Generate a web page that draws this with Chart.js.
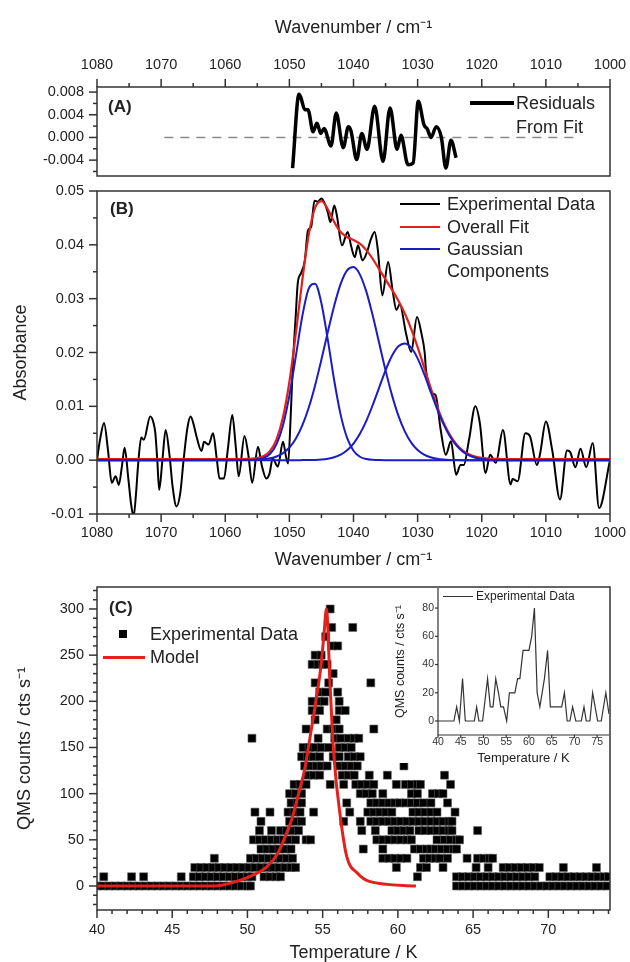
<!DOCTYPE html>
<html><head><meta charset="utf-8">
<script src="https://cdn.jsdelivr.net/npm/chart.js@4.4.0/dist/chart.umd.min.js"></script>
<style>
html,body{margin:0;padding:0;background:#fff;overflow:hidden;width:630px;height:962px;}
#wrap{position:relative;width:630px;height:962px;overflow:hidden;font-family:'Liberation Sans',Arial,sans-serif;color:#222;}
canvas{position:absolute;}
.t{position:absolute;white-space:nowrap;line-height:1;}
.ln{position:absolute;}
</style></head>
<body><div id="wrap">
<canvas id="cA" width="630" height="186" style="left:0;top:0;width:630px;height:186px"></canvas>
<canvas id="cB" width="630" height="395" style="left:0;top:180px;width:630px;height:395px"></canvas>
<canvas id="cC" width="630" height="400" style="left:0;top:578px;width:630px;height:400px"></canvas>
<canvas id="cI" width="224" height="186" style="left:385px;top:581px;width:224px;height:186px"></canvas>

<div class="t" style="left:108px;top:98px;font-size:17px;font-weight:bold">(A)</div>
<div class="ln" style="left:470px;top:101px;width:44px;height:3.5px;background:#000"></div>
<div class="t" style="left:516px;top:94px;font-size:18px">Residuals</div>
<div class="t" style="left:516px;top:118px;font-size:18px">From Fit</div>

<div class="t" style="left:110px;top:200px;font-size:17px;font-weight:bold">(B)</div>
<div class="ln" style="left:400px;top:203px;width:40px;height:2px;background:#000"></div>
<div class="ln" style="left:400px;top:226px;width:40px;height:2px;background:#e3201c"></div>
<div class="ln" style="left:400px;top:248px;width:40px;height:2px;background:#1c1cc4"></div>
<div class="t" style="left:447px;top:195px;font-size:18px">Experimental Data</div>
<div class="t" style="left:447px;top:218px;font-size:18px">Overall Fit</div>
<div class="t" style="left:447px;top:240px;font-size:18px">Gaussian</div>
<div class="t" style="left:447px;top:262px;font-size:18px">Components</div>

<div class="t" style="left:109px;top:599px;font-size:17px;font-weight:bold">(C)</div>
<div class="ln" style="left:119px;top:630px;width:8px;height:8px;background:#000"></div>
<div class="t" style="left:150px;top:625px;font-size:18px">Experimental Data</div>
<div class="ln" style="left:103px;top:655.5px;width:42px;height:3px;background:#e3201c"></div>
<div class="t" style="left:150px;top:648px;font-size:18px">Model</div>

<div class="ln" style="left:443px;top:595.5px;width:30px;height:1px;background:#333"></div>
<div class="t" style="left:476px;top:590px;font-size:12px">Experimental Data</div>
</div>
<script>
// ---------- tick values ----------
const wnTicks = [1080,1070,1060,1050,1040,1030,1020,1010,1000];
const wnMinor = [1075,1065,1055,1045,1035,1025,1015,1005];
const resTicks = [-0.004,0,0.004,0.008];
const resMinor = [0.006,0.002,-0.002,-0.006];
const absTicks = [-0.01,0,0.01,0.02,0.03,0.04,0.05];
const absMinor = [0.045,0.035,0.025,0.015,0.005,-0.005];
const tempTicks = [40,45,50,55,60,65,70];
const tempMinor = [41,42,43,44,46,47,48,49,51,52,53,54,56,57,58,59,61,62,63,64,66,67,68,69,71,72,73,74];
const qmsTicks = [0,50,100,150,200,250,300];
const qmsMinor = [-20,-10,10,20,30,40,60,70,80,90,110,120,130,140,160,170,180,190,210,220,230,240,260,270,280,290,310,320];
const insetTempTicks = [40,45,50,55,60,65,70,75];
const insetCountTicks = [0,20,40,60,80];

// ---------- (A) residuals ----------
const resWn  = [1049.5,1048.5,1048.2,1047.6,1047.1,1046.3,1045.7,1045.1,1044.6,1043.5,1042.7,1041.6,1040.8,1040.4,1039.5,1038.7,1037.9,1036.7,1035.4,1034.3,1033.2,1032.6,1031.5,1030.7,1029.9,1029.0,1028.5,1027.9,1027.1,1026.3,1025.6,1024.8,1024.0];
const resVal = [-0.0054,0.0076,0.0070,0.0049,0.0049,0.0010,0.0025,0.0007,0.0016,-0.0015,0.0043,-0.0018,0.0019,0.0012,-0.0039,0.0007,-0.0021,0.0055,-0.0042,0.0052,-0.0021,0.0004,-0.0048,-0.0045,0.0064,0.0022,0.0015,0.0000,0.0019,0.0000,-0.0054,-0.0005,-0.0036];
const zeroWn  = [1069.5,1005.5];
const zeroVal = [0,0];

// ---------- (B) absorbance ----------
const expWn = [1080,1079.5,1078.9,1078.3,1077.7,1077.1,1076.6,1076.1,1075.7,1075.1,1074.7,1074.3,1073.9,1073.6,1073.1,1072.7,1071.7,1071.2,1070.9,1070.6,1070.3,1069.8,1069.3,1068.7,1068.2,1067.6,1067.0,1066.5,1065.9,1065.4,1064.9,1064.5,1063.7,1063.3,1062.6,1061.9,1061.3,1060.9,1060.2,1059.6,1058.9,1058.4,1057.9,1057.0,1056.4,1055.8,1054.9,1054.3,1053.6,1053.1,1052.6,1051.8,1051.0,1050.5,1050.2,1049.8,1049.5,1049.0,1048.7,1048.2,1047.6,1047.1,1046.6,1046.1,1045.6,1045.0,1044.5,1044.0,1043.6,1043.0,1042.6,1041.8,1040.9,1040.4,1039.8,1039.3,1038.6,1037.8,1037.3,1036.7,1036.2,1035.5,1034.6,1033.9,1033.3,1032.8,1031.8,1031.0,1030.1,1029.4,1028.9,1028.7,1027.7,1027.2,1026.4,1025.6,1024.8,1024.0,1023.3,1022.8,1022.0,1021.0,1020.3,1019.4,1018.7,1017.8,1016.7,1015.5,1015.2,1014.4,1013.2,1012.5,1011.4,1010.9,1010.0,1009.0,1007.8,1006.7,1006.2,1005.4,1004.6,1003.7,1002.7,1001.7,1000.0];
const expAbs = [0.0000,0.0040,0.0069,0.0020,-0.0042,-0.0030,-0.0046,-0.0010,0.0023,-0.0036,-0.0080,-0.0105,-0.0060,-0.0010,0.0042,0.0038,0.0081,0.0070,0.0050,0.0000,-0.0055,0.0000,0.0056,0.0010,-0.0050,-0.0086,-0.0060,0.0000,0.0060,0.0081,0.0065,0.0045,0.0017,0.0034,0.0029,0.0050,0.0000,-0.0034,-0.0034,0.0020,0.0084,0.0030,-0.0030,0.0045,0.0010,-0.0042,0.0025,-0.0010,-0.0034,-0.0025,0.0003,-0.0012,0.0034,0.0005,-0.0006,0.0080,0.0168,0.0270,0.0328,0.0347,0.0370,0.0427,0.0433,0.0482,0.0480,0.0486,0.0477,0.0460,0.0442,0.0473,0.0455,0.0399,0.0424,0.0399,0.0377,0.0399,0.0371,0.0390,0.0410,0.0424,0.0390,0.0306,0.0368,0.0315,0.0279,0.0290,0.0235,0.0201,0.0266,0.0235,0.0200,0.0168,0.0124,0.0121,0.0056,0.0010,0.0035,-0.0027,-0.0009,-0.0009,0.0037,0.0100,0.0069,-0.0024,0.0010,-0.0005,0.0056,-0.0045,-0.0035,-0.0039,0.0050,0.0045,-0.0009,0.0012,0.0072,0.0018,-0.0073,0.0018,0.0015,-0.0013,0.0021,-0.0013,0.0032,-0.0089,0.0000];
const fitWn = [1080,1058,1057,1056,1055,1054,1053,1052,1051,1050,1049,1048,1047,1046,1045,1044,1043,1042,1041,1040,1039,1038,1037,1036,1035,1034,1033,1032,1031,1030,1029,1028,1027,1026,1025,1024,1023,1022,1021,1020,1019,1018,1017,1016,1000];
const gauss1 = [0,0,0.00001,0.00003,0.00012,0.00041,0.00119,0.00298,0.00644,0.01199,0.01925,0.02665,0.03183,0.03278,0.02912,0.02231,0.01475,0.00841,0.00413,0.00175,0.00064,0.0002,0.00006,0.00001,0,0,0,0,0,0,0,0,0,0,0,0,0,0,0,0,0,0,0,0,0];
const gauss2 = [0,0.00001,0.00001,0.00003,0.00007,0.00016,0.00035,0.00069,0.00132,0.00236,0.0040,0.0064,0.00968,0.01384,0.01869,0.02384,0.02874,0.03275,0.03525,0.03586,0.03447,0.0313,0.02686,0.02177,0.01668,0.01208,0.00826,0.00534,0.00326,0.00188,0.00103,0.00053,0.00026,0.00012,0.00005,0.00002,0,0,0,0,0,0,0,0,0];
const gauss3 = [0,0,0,0,0,0,0,0,0,0,0,0.00001,0.00002,0.00005,0.00012,0.00026,0.00053,0.00101,0.00183,0.00309,0.0049,0.00731,0.01025,0.01349,0.01669,0.01938,0.02116,0.02169,0.0209,0.01891,0.01607,0.01283,0.00963,0.00678,0.00449,0.00279,0.00163,0.0009,0.00046,0.00022,0.0001,0.00004,0.00002,0,0];
const overallFit = [0.0002,0.0002,0.00022,0.00026,0.00039,0.00077,0.00174,0.00387,0.00796,0.01455,0.02345,0.03326,0.04173,0.04687,0.04813,0.04661,0.04422,0.04237,0.04141,0.0409,0.04021,0.03901,0.03737,0.03547,0.03357,0.03166,0.02962,0.02723,0.02436,0.02099,0.0173,0.01356,0.01009,0.0071,0.00474,0.00301,0.00183,0.0011,0.00066,0.00042,0.0003,0.00024,0.00022,0.0002,0.0002];

// ---------- (C) QMS scatter, temperatures per count level ----------
const qmsLevels = [0,10,20,30,40,50,60,70,80,90,100,110,120,130,140,150,160,170,180,190,200,210,220,230,240,250,260,270,280,300];
const qms0   = [40.0,40.4,40.8,41.2,41.6,42.0,42.4,42.8,43.2,43.6,44.0,44.4,44.8,45.2,45.6,46.0,46.4,46.8,47.2,47.6,48.0,48.4,48.8,49.2,49.6,50.0,50.2,63.9,64.3,64.7,65.1,65.5,65.9,66.3,66.7,67.1,67.5,67.9,68.3,68.7,69.1,69.5,69.9,70.3,70.7,71.1,71.5,71.9,72.3,72.7,73.1,73.5,73.9];
const qms10  = [40.45,42.3,43.1,45.6,46.4,46.8,47.2,47.6,48.0,48.4,48.8,49.2,49.6,50.0,50.3,51.1,51.5,51.9,52.2,61.3,63.9,64.3,64.7,65.1,65.5,65.9,66.3,66.7,67.1,67.5,67.9,68.3,68.7,69.1,70.1,70.5,70.9,71.3,71.7,72.1,72.5,72.9,73.3,73.7,74.0];
const qms20  = [46.5,46.9,47.3,47.7,48.1,48.5,48.9,49.3,49.7,50.1,50.5,50.9,51.3,51.7,52.1,52.5,52.9,53.2,59.9,61.5,61.9,63.0,65.2,66.0,67.0,67.4,67.8,68.2,68.6,69.0,69.4,71.0,73.2];
const qms30  = [47.8,50.2,50.6,51.0,51.4,51.8,52.2,52.6,53.0,59.0,59.4,59.8,60.2,60.6,61.7,62.1,62.5,62.8,63.3,64.6,65.3,65.7,66.1,66.3];
const qms40  = [50.9,51.3,51.7,52.1,52.5,52.9,57.7,59.0,61.1,61.5,61.9,62.2,62.5,62.9,63.3,63.7,63.9];
const qms50  = [50.4,50.8,51.2,51.6,52.0,52.4,52.8,53.2,53.9,54.2,58.6,59.0,59.4,59.8,60.2,60.6,60.9,62.6,63.1,63.5,63.9,64.1];
const qms60  = [50.8,51.6,52.2,52.6,53.0,53.4,57.6,58.5,59.6,60.0,60.4,60.8,61.4,61.8,62.2,62.6,63.0,63.4,63.6,65.3];
const qms70  = [50.9,52.8,53.2,53.6,56.4,57.5,58.2,58.6,59.0,59.4,59.8,60.2,60.6,61.0,61.4,61.8,62.2,62.6,63.0,63.4,63.6];
const qms80  = [50.5,51.5,52.7,53.1,53.5,54.4,56.8,58.0,58.4,58.8,59.2,59.6,61.0,61.4,61.8,62.2,62.6,63.8];
const qms90  = [52.9,53.3,53.6,56.6,58.2,58.6,59.0,59.4,59.8,60.1,60.5,60.9,61.3,61.7,62.2,63.3];
const qms100 = [52.8,53.2,53.6,57.5,57.9,58.3,59.0,60.9,61.3,62.3,62.7,63.0];
const qms110 = [53.1,53.5,53.9,55.5,56.4,57.2,57.6,58.0,58.4,59.9,60.5,60.9,61.3,61.5,63.5];
const qms120 = [54.0,54.4,54.8,56.3,56.7,57.1,58.1,59.3,63.1];
const qms130 = [53.8,54.2,54.6,54.9,55.3,56.1,56.5,56.9,57.3,60.4];
const qms140 = [53.6,54.0,54.4,54.8,55.7,56.1,56.7,57.1,57.5];
const qms150 = [53.7,54.1,54.5,54.9,55.4,56.1,56.5,56.9];
const qms160 = [50.3,54.7,55.8,56.2,56.7,57.1,57.4];
const qms170 = [53.9,55.3,55.7,56.1,58.4];
const qms180 = [54.5,55.9];
const qms190 = [54.3,54.8,56.1,56.5];
const qms200 = [54.3,54.7,55.1,56.1];
const qms210 = [54.8,55.2,56.0];
const qms220 = [54.5,55.4,58.2];
const qms230 = [55.7];
const qms240 = [54.3,54.7,55.0,55.3];
const qms250 = [54.5,54.9];
const qms260 = [55.6,56.0];
const qms270 = [55.2];
const qms280 = [55.6,57.0];
const qms300 = [55.5];
const qmsRows = [qms0,qms10,qms20,qms30,qms40,qms50,qms60,qms70,qms80,qms90,qms100,qms110,qms120,qms130,qms140,qms150,qms160,qms170,qms180,qms190,qms200,qms210,qms220,qms230,qms240,qms250,qms260,qms270,qms280,qms300];

const modelT = [40,47.8,48.6,49.5,50.4,51.3,52.0,52.5,53.0,53.4,53.8,54.2,54.6,54.9,55.1,55.25,55.5,55.75,56.2,56.6,57.3,58.1,61.2];
const modelC = [0,0,2,6,12,21,35,53,75,100,126,165,205,240,275,300,215,140,72,32,14,5,0];

// ---------- inset ----------
const insetT = [40,43.5,44.1,44.7,45.4,46.0,48.0,48.5,49.0,49.8,50.9,51.5,52.1,52.7,53.3,53.8,54.4,55.1,55.7,56.9,57.5,58.0,58.7,60.0,60.6,61.2,61.8,62.4,63.4,64.1,64.7,67.2,67.8,68.4,69.0,69.6,70.3,71.5,72.1,72.6,73.4,74.0,75.1,75.9,76.9,77.6];
const insetC = [0,0,10,0,30,0,0,10,0,0,30,10,10,30,20,10,10,0,20,20,30,30,50,50,60,80,20,10,30,50,10,10,20,0,0,10,0,0,10,0,0,20,0,0,20,5];

// ---------- helpers ----------
const FONT = "'Liberation Sans', Arial, sans-serif";
Chart.defaults.font.family = FONT;
Chart.defaults.color = '#222';
const pts = (xs, ys) => xs.map((x, i) => ({x, y: ys[i]}));
const setTicks = vals => s => { s.ticks = vals.map(v => ({value: v})); };
// invisible tick marks only used to space the labels from the axis
const gap = n => ({display: true, drawOnChartArea: false, drawTicks: true, tickLength: n, tickColor: 'rgba(0,0,0,0)'});

const frameTicks = {
  id: 'frameTicks',
  afterDraw(chart, args, o) {
    const ctx = chart.ctx, a = chart.chartArea;
    ctx.save();
    ctx.strokeStyle = o.color || '#333';
    ctx.lineWidth = o.lw || 1.5;
    (o.marks || []).forEach(m => {
      const sc = chart.scales[m.axis];
      const draw = (vals, len) => vals.forEach(v => {
        const p = sc.getPixelForValue(v);
        ctx.beginPath();
        if (m.side === 'left') { ctx.moveTo(a.left - len, p); ctx.lineTo(a.left, p); }
        else if (m.side === 'bottom') { ctx.moveTo(p, a.bottom); ctx.lineTo(p, a.bottom + len); }
        else { ctx.moveTo(p, a.top - len); ctx.lineTo(p, a.top); }
        ctx.stroke();
      });
      draw(m.major, m.majLen || 8);
      draw(m.minor || [], m.minLen || 4);
    });
    if (o.box) ctx.strokeRect(a.left, a.top, a.right - a.left, a.bottom - a.top);
    if (o.lb) {
      ctx.beginPath();
      ctx.moveTo(a.left, a.top); ctx.lineTo(a.left, a.bottom); ctx.lineTo(a.right, a.bottom);
      ctx.stroke();
    }
    ctx.restore();
  }
};
const whiteBg = {
  id: 'whiteBg',
  beforeDraw(chart, args, o) {
    const ctx = chart.ctx;
    ctx.save(); ctx.fillStyle = '#fff';
    ctx.fillRect(0, o.y0 || 0, chart.width, (o.y1 || chart.height) - (o.y0 || 0));
    ctx.restore();
  }
};
const noBorder = {display: false};
const base = {responsive: false, animation: false, devicePixelRatio: 1,
  plugins: {legend: {display: false}, tooltip: {enabled: false}}};
const lineDs = (data, color, width, extra) => Object.assign({data, showLine: true, borderColor: color,
  borderWidth: width, pointRadius: 0, cubicInterpolationMode: 'monotone', fill: false}, extra || {});
const tickFont = {size: 14.5};

// ---------- Chart A ----------
new Chart(document.getElementById('cA'), {
  type: 'scatter',
  data: {datasets: [
    lineDs(pts(resWn, resVal), '#000', 3.5),
    lineDs(pts(zeroWn, zeroVal), '#8a8a8a', 1.5, {borderDash: [9, 7], cubicInterpolationMode: 'default', tension: 0})
  ]},
  options: Object.assign({}, base, {
    layout: {padding: {left: 0, right: 20, top: 0, bottom: 10}},
    plugins: Object.assign({}, base.plugins, {frameTicks: {box: true, marks: [
      {axis: 'x', side: 'top', major: wnTicks, minor: wnMinor},
      {axis: 'y', side: 'left', major: resTicks, minor: resMinor}]}}),
    scales: {
      x: {type: 'linear', position: 'top', reverse: true, min: 1000, max: 1080,
        afterBuildTicks: setTicks(wnTicks), afterFit: s => { s.height = 87; },
        grid: gap(13), border: noBorder,
        ticks: {font: tickFont, color: '#222', padding: 0, maxRotation: 0, autoSkip: false, callback: v => String(v)},
        title: {display: true, text: 'Wavenumber / cm⁻¹', font: {size: 18}, color: '#222', padding: {top: 17, bottom: 0}}},
      y: {type: 'linear', min: -0.0068, max: 0.0089,
        afterBuildTicks: setTicks(resTicks), afterFit: s => { s.width = 97; },
        grid: gap(13), border: noBorder,
        ticks: {font: tickFont, color: '#222', padding: 0, autoSkip: false, callback: v => v.toFixed(3)}}
    }
  }),
  plugins: [frameTicks]
});

// ---------- Chart B ----------
new Chart(document.getElementById('cB'), {
  type: 'scatter',
  data: {datasets: [
    lineDs(pts(fitWn, gauss1), '#1c1cc4', 2),
    lineDs(pts(fitWn, gauss2), '#1c1cc4', 2),
    lineDs(pts(fitWn, gauss3), '#1c1cc4', 2),
    lineDs(pts(fitWn, overallFit), '#e3201c', 2.2),
    lineDs(pts(expWn, expAbs), '#000', 2)
  ]},
  options: Object.assign({}, base, {
    layout: {padding: {left: 0, right: 20, top: 11, bottom: 0}},
    plugins: Object.assign({}, base.plugins, {frameTicks: {box: true, marks: [
      {axis: 'x', side: 'bottom', major: wnTicks, minor: wnMinor},
      {axis: 'y', side: 'left', major: absTicks, minor: absMinor}]}}),
    scales: {
      x: {type: 'linear', position: 'bottom', reverse: true, min: 1000, max: 1080,
        afterBuildTicks: setTicks(wnTicks), afterFit: s => { s.height = 61; },
        grid: gap(10), border: noBorder,
        ticks: {font: tickFont, color: '#222', padding: 0, maxRotation: 0, autoSkip: false, callback: v => String(v)},
        title: {display: true, text: 'Wavenumber / cm⁻¹', font: {size: 18}, color: '#222', padding: {top: 0, bottom: 4}}},
      y: {type: 'linear', min: -0.01, max: 0.05,
        afterBuildTicks: setTicks(absTicks), afterFit: s => { s.width = 97; },
        grid: gap(13), border: noBorder,
        ticks: {font: tickFont, color: '#222', padding: 0, autoSkip: false, callback: v => v.toFixed(2)},
        title: {display: true, text: 'Absorbance', font: {size: 18}, color: '#222', padding: {top: 10, bottom: 0}}}
    }
  }),
  plugins: [frameTicks]
});

// ---------- Chart C ----------
const qmsPoints = [];
qmsRows.forEach((row, i) => row.forEach(t => qmsPoints.push({x: t, y: qmsLevels[i]})));
new Chart(document.getElementById('cC'), {
  type: 'scatter',
  data: {datasets: [
    lineDs(pts(modelT, modelC), '#e3201c', 3),
    {data: qmsPoints, pointStyle: 'rect', pointRadius: 5.6, pointBackgroundColor: '#000',
      pointBorderColor: '#555', pointBorderWidth: 0.6, showLine: false, clip: 0}
  ]},
  options: Object.assign({}, base, {
    layout: {padding: {left: 0, right: 20, top: 9, bottom: 0}},
    plugins: Object.assign({}, base.plugins, {frameTicks: {box: true, marks: [
      {axis: 'x', side: 'bottom', major: tempTicks, minor: tempMinor},
      {axis: 'y', side: 'left', major: qmsTicks, minor: qmsMinor}]}}),
    scales: {
      x: {type: 'linear', position: 'bottom', min: 40, max: 74.1,
        afterBuildTicks: setTicks(tempTicks), afterFit: s => { s.height = 68; },
        grid: gap(11), border: noBorder,
        ticks: {font: tickFont, color: '#222', padding: 0, maxRotation: 0, autoSkip: false},
        title: {display: true, text: 'Temperature / K', font: {size: 18}, color: '#222', padding: {top: 0, bottom: 14}}},
      y: {type: 'linear', min: -26, max: 323.8,
        afterBuildTicks: setTicks(qmsTicks), afterFit: s => { s.width = 97; },
        grid: gap(13), border: noBorder,
        ticks: {font: tickFont, color: '#222', padding: 0, autoSkip: false},
        title: {display: true, text: 'QMS counts / cts s⁻¹', font: {size: 18}, color: '#222', padding: {top: 14, bottom: 0}}}
    }
  }),
  plugins: [frameTicks]
});

// ---------- Inset ----------
new Chart(document.getElementById('cI'), {
  type: 'scatter',
  data: {datasets: [
    lineDs(pts(insetT, insetC), '#333', 1.2, {cubicInterpolationMode: 'default', tension: 0})
  ]},
  options: Object.assign({}, base, {
    layout: {padding: {left: 0, right: 0, top: 7, bottom: 0}},
    plugins: Object.assign({}, base.plugins, {whiteBg: {y0: 8, y1: 182}, frameTicks: {lb: true, lw: 1.2, marks: [
      {axis: 'x', side: 'bottom', major: insetTempTicks, majLen: 3},
      {axis: 'y', side: 'left', major: insetCountTicks, majLen: 3}]}}),
    scales: {
      x: {type: 'linear', position: 'bottom', min: 40, max: 77.6,
        afterBuildTicks: setTicks(insetTempTicks), afterFit: s => { s.height = 32; },
        grid: gap(1), border: noBorder,
        ticks: {font: {size: 10.5}, color: '#333', padding: 0, maxRotation: 0, autoSkip: false},
        title: {display: true, text: 'Temperature / K', font: {size: 13}, color: '#222', padding: {top: 0, bottom: 1}}},
      y: {type: 'linear', min: -9.9, max: 94.2,
        afterBuildTicks: setTicks(insetCountTicks), afterFit: s => { s.width = 53; },
        grid: gap(4), border: noBorder,
        ticks: {font: {size: 10.5}, color: '#333', padding: 0, autoSkip: false},
        title: {display: true, text: 'QMS counts / cts s⁻¹', font: {size: 12.5}, color: '#222', padding: {top: 8, bottom: 0}}}
    }
  }),
  plugins: [whiteBg, frameTicks]
});
</script>
</body></html>
